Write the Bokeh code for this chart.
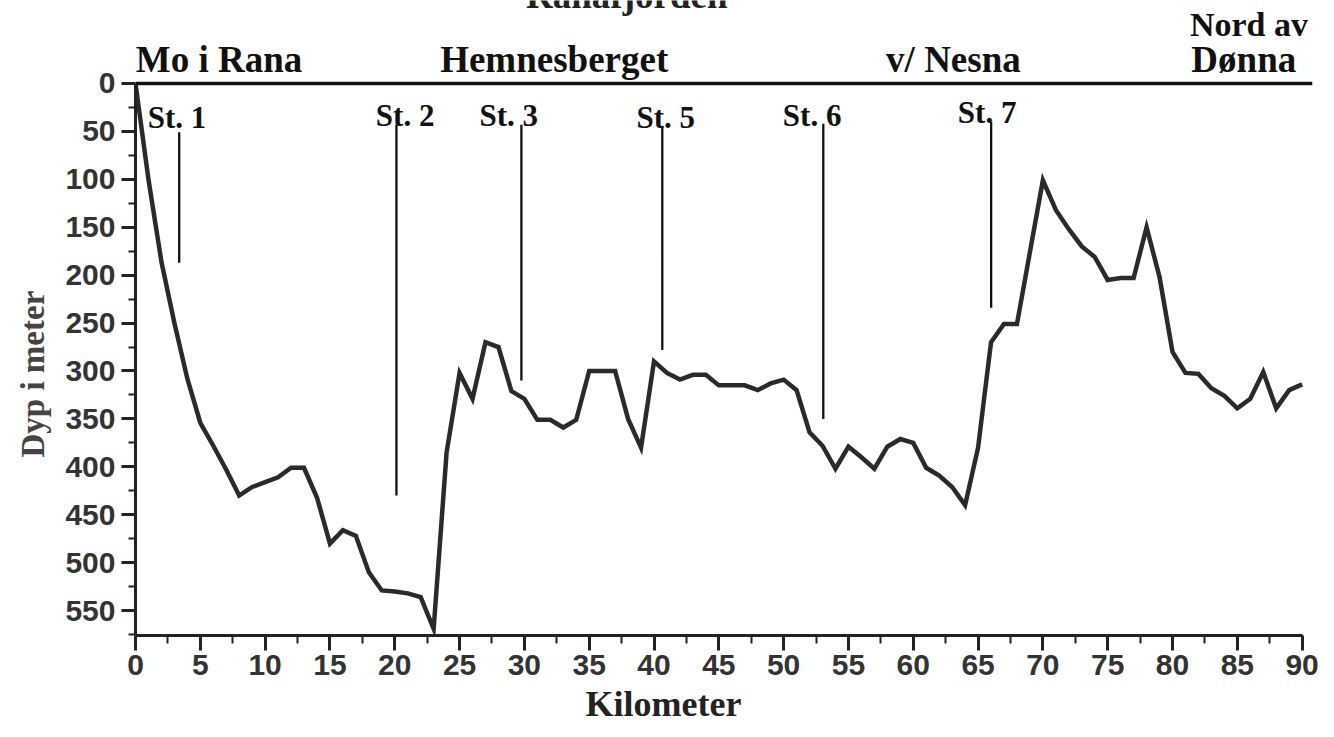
from bokeh.plotting import figure
from bokeh.models import Range1d, FixedTicker, Span, LabelSet, ColumnDataSource, Title
from bokeh.core.properties import value
from bokeh.embed import file_html
from bokeh.resources import INLINE

# ---------------- data ----------------
km = [0, 1, 2, 3, 4, 5, 6, 7, 8, 9, 10, 11, 12, 13, 14, 15, 16, 17, 18, 19,
      20, 21, 22, 23, 24, 25, 26, 27, 28, 29, 30, 31, 32, 33, 34, 35, 36, 37,
      38, 39, 40, 41, 42, 43, 44, 45, 46, 47, 48, 49, 50, 51, 52, 53, 54, 55,
      56, 57, 58, 59, 60, 61, 62, 63, 64, 65, 66, 67, 68, 70, 71, 72, 73, 74,
      75, 76, 77, 78, 79, 80, 81, 82, 83, 84, 85, 86, 87, 88, 89, 90]
depth = [0, 100, 186, 250, 308, 354, 378, 403, 430, 421, 416, 411, 401, 401, 432,
         480, 466, 472, 510, 529, 530, 532, 536, 569, 385, 302, 329, 270, 275,
         321, 329, 351, 351, 359, 351, 300, 300, 300, 350, 380, 290, 302, 309,
         304, 304, 315, 315, 315, 320, 313, 309, 320, 364, 378, 402, 379, 390,
         402, 379, 371, 375, 401, 409, 421, 440, 380, 270, 251, 251, 101, 132,
         152, 170, 181, 205, 203, 203, 150, 202, 280, 302, 303, 318, 326, 339,
         329, 301, 339, 320, 314]

station_names = ["St. 1", "St. 2", "St. 3", "St. 5", "St. 6", "St. 7"]
station_km = [3.37, 20.13, 29.77, 40.64, 53.06, 66.01]
station_top = [51, 43, 43, 45, 42, 40]
station_bottom = [187, 430, 310, 278, 350, 234]
station_label_km = [3.2, 20.8, 28.8, 40.9, 52.2, 65.7]
station_label_depth = [35, 33, 33, 35, 33, 30]

place_names = ["Mo i Rana", "Hemnesberget", "v/ Nesna", "Dønna"]
place_km = [6.45, 32.3, 63.1, 85.5]
place_depth = [-11.5, -11.5, -11.5, -11.5]
extra_place = ["Nord av"]
extra_place_km = [85.9]
extra_place_depth = [-50]

x_ticks = list(range(0, 91, 5))
x_minor = [t + 2.5 for t in range(0, 90, 5)]
y_ticks = list(range(0, 551, 50))
y_minor = list(range(25, 576, 50))

title_text = ["Ranafjorden"]
title_km = [37.9]
title_depth = [-78.3]
x_label = "Kilometer"
y_label = "Dyp i meter"

# ---------------- figure ----------------
p = figure(width=1334, height=737, output_backend="svg", toolbar_location=None,
           x_range=Range1d(0, 90.8), y_range=Range1d(576, -86.6),
           min_border_left=135, min_border_right=22, min_border_top=0,
           min_border_bottom=102)
p.xgrid.visible = False
p.ygrid.visible = False
p.outline_line_color = None
p.background_fill_color = "white"
p.border_fill_color = "white"

axis_col = "#222222"
lab_col = "#333333"

p.xaxis.ticker = FixedTicker(ticks=x_ticks, minor_ticks=x_minor)
p.xaxis.bounds = (0, 90)
p.yaxis.ticker = FixedTicker(ticks=y_ticks, minor_ticks=y_minor)
p.yaxis.bounds = (0, 576)
for ax, tout, mout, stand in ((p.xaxis, 15, 8, 4), (p.yaxis, 14, 7, 6)):
    ax.axis_line_width = 3
    ax.axis_line_color = axis_col
    ax.major_tick_line_width = 3
    ax.major_tick_line_color = axis_col
    ax.minor_tick_line_width = 2
    ax.minor_tick_line_color = axis_col
    ax.major_tick_out = tout
    ax.major_tick_in = 0
    ax.minor_tick_out = mout
    ax.minor_tick_in = 0
    ax.major_label_standoff = stand
    ax.major_label_text_font = "Liberation Sans"
    ax.major_label_text_font_style = "bold"
    ax.major_label_text_font_size = "30px"
    ax.major_label_text_color = lab_col

# axis titles placed in the border panels
p.add_layout(Title(text=x_label, align="left", offset=450, standoff=9,
                   text_font="Liberation Serif", text_font_style="bold",
                   text_font_size="36px", text_color="#222222"), "below")
p.add_layout(Title(text=y_label, align="left", offset=178, standoff=24,
                   text_font="Liberation Serif", text_font_style="bold",
                   text_font_size="33px", text_color="#444444"), "left")

# top line (surface)
p.add_layout(Span(location=0, dimension="width", line_color="#111111", line_width=3.5))

# station lines
p.segment(x0=station_km, y0=station_top, x1=station_km, y1=station_bottom,
          line_color="#111111", line_width=2.3)

# depth profile
p.line(km, depth, line_color="#2a2a2a", line_width=4.5, line_join="miter")

# station labels
p.text(x=station_label_km, y=station_label_depth, text=station_names,
       text_font=value("Liberation Serif"), text_font_style="bold",
       text_font_size="31px", text_align="center", text_baseline="alphabetic",
       text_color="#111111")

# place labels
def labels(xs, ys, texts, size, color="#111111"):
    src = ColumnDataSource(dict(x=xs, y=ys, t=texts))
    p.add_layout(LabelSet(x="x", y="y", text="t", source=src,
                          text_font=value("Liberation Serif"), text_font_style="bold",
                          text_font_size=size, text_align="center",
                          text_baseline="alphabetic", text_color=color))

labels(place_km, place_depth, place_names, "37px")
labels(extra_place_km, extra_place_depth, extra_place, "34px")
# title, cut at the top edge as in the original
labels(title_km, title_depth, title_text, "37px", "#222222")

open("out.html", "w").write(file_html(p, INLINE))
